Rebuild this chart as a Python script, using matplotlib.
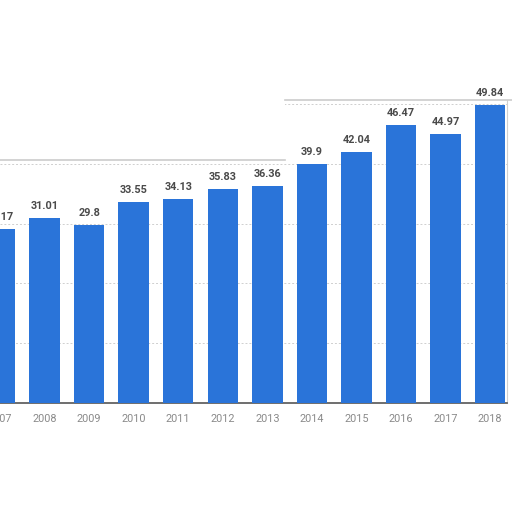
import matplotlib
matplotlib.use("Agg")
import matplotlib.pyplot as plt
from matplotlib.lines import Line2D
from matplotlib.patches import Rectangle

plt.rcParams["font.family"] = ["Roboto", "DejaVu Sans"]

years = ["2007", "2008", "2009", "2010", "2011", "2012", "2013", "2014", "2015", "2016", "2017", "2018"]
values = [29.17, 31.01, 29.8, 33.55, 34.13, 35.83, 36.36, 39.9, 42.04, 46.47, 44.97, 49.84]
labels = ["29.17", "31.01", "29.8", "33.55", "34.13", "35.83", "36.36", "39.9", "42.04", "46.47", "44.97", "49.84"]

fig = plt.figure(figsize=(5.12, 5.12), dpi=100)
fig.patch.set_facecolor("white")

base_frac = 1 - 403 / 512
px_per_unit = 5.98
ymax = 303 / px_per_unit
top_frac = base_frac + ymax * px_per_unit / 512
ax = fig.add_axes([0, base_frac, 507 / 512, top_frac - base_frac])
ax.set_facecolor("white")

x = list(range(len(years)))
ax.bar(x, values, width=0.683, color="#2a74d9", zorder=3)
for xi, v, lab in zip(x, values, labels):
    ax.annotate(lab, (xi, v), xytext=(0, 5), textcoords="offset points",
                ha="center", va="bottom", fontsize=7.8, fontweight="bold",
                color="#4a4a4a", zorder=4, annotation_clip=False)

ax.set_xlim(0.104, 11.378)
ax.set_ylim(0, ymax)
ax.set_yticks([10, 20, 30, 40, 50])
ax.yaxis.grid(True, linestyle=(0, (2, 2)), color="#cfcfcf", linewidth=0.7, zorder=0)
ax.tick_params(axis="y", left=False, labelleft=False)
ax.set_xticks(x)
ax.set_xticklabels(years, fontsize=7.8, color="#8a8a8a")
ax.tick_params(axis="x", length=0, pad=8)
for s in ["top", "left"]:
    ax.spines[s].set_visible(False)
ax.spines["right"].set_color("#d0d0d0")
ax.spines["bottom"].set_color("#555555")
ax.spines["bottom"].set_linewidth(1.2)

# white area above the left part of the torn frame
fig.add_artist(Rectangle((0, 1 - 159 / 512), 285 / 512, 159 / 512,
                         transform=fig.transFigure, facecolor="white",
                         edgecolor="none", zorder=10))
# faint frame edge lines at the top
fig.add_artist(Line2D([0, 285 / 512], [1 - 160 / 512, 1 - 160 / 512], color="#cccccc", lw=1.2, zorder=11))
fig.add_artist(Line2D([285 / 512, 1], [1 - 100 / 512, 1 - 100 / 512], color="#cccccc", lw=1.2, zorder=11))

fig.savefig("out.png", dpi=100, facecolor="white")
